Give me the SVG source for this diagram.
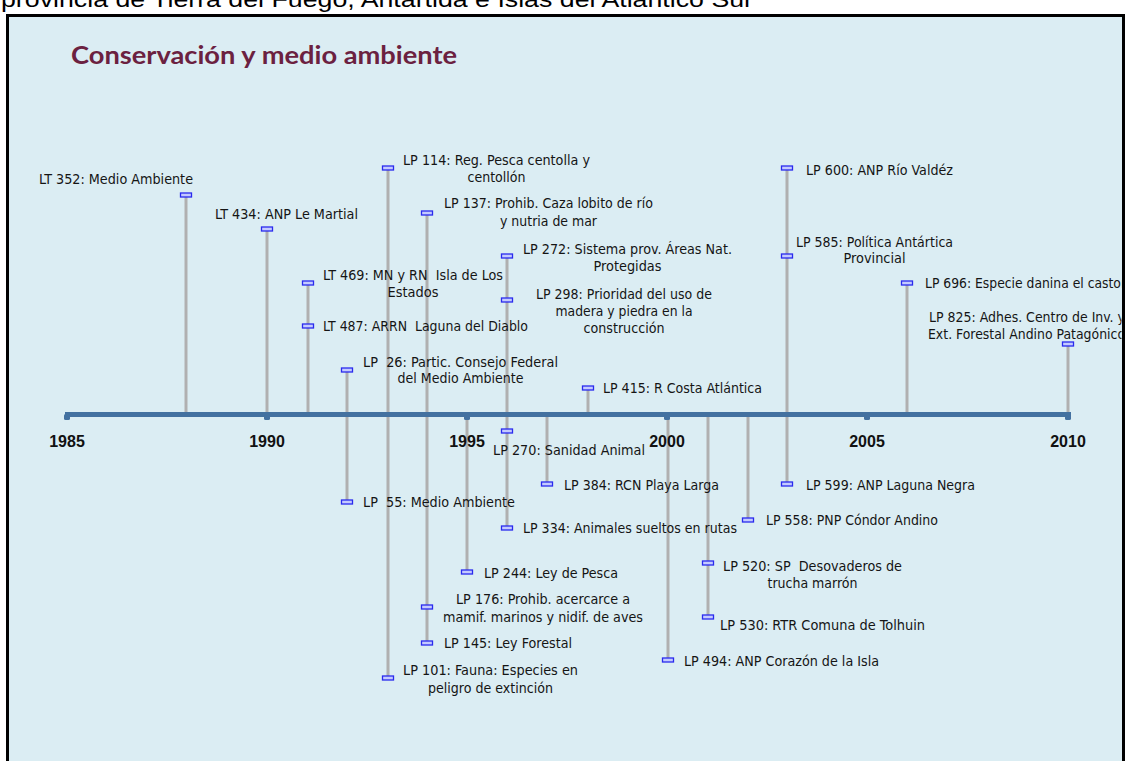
<svg xmlns="http://www.w3.org/2000/svg" width="1127" height="761" viewBox="0 0 1127 761">
<defs>
<style>
.lbl{font-family:"DejaVu Sans Condensed","DejaVu Sans",sans-serif;font-size:13.5px;fill:#151515;white-space:pre}
.mid{text-anchor:middle}
.yr{font-family:"Liberation Sans",Arial,sans-serif;font-weight:bold;font-size:16px;text-anchor:middle;fill:#111}
.mk{fill:#c4caff;stroke:#2a2aee;stroke-width:1.3}
.stem{stroke:#b0b0b0;stroke-width:3;fill:none}
.tick{fill:#4371a0}
</style>
<clipPath id="panelClip"><rect x="9" y="17" width="1112.5" height="744"/></clipPath>
</defs>
<rect x="0" y="0" width="1127" height="761" fill="#ffffff"/>
<text x="1" y="7" font-family="'Liberation Sans',Arial,sans-serif" font-size="22" fill="#000" textLength="752" lengthAdjust="spacingAndGlyphs">provincia de Tierra del Fuego, Antártida e Islas del Atlántico Sur</text>
<rect x="7.5" y="15.5" width="1116" height="760" fill="#dbedf3" stroke="#000" stroke-width="3"/>
<text id="title" x="71" y="64" font-family="Lato,'Open Sans',sans-serif" font-weight="bold" font-size="25" fill="#6b2140" textLength="386" lengthAdjust="spacingAndGlyphs">Conservación y medio ambiente</text>

<g id="connectors">
<line class="stem" x1="186" y1="195" x2="186" y2="414"/>
<line class="stem" x1="267" y1="229" x2="267" y2="414"/>
<line class="stem" x1="308" y1="283" x2="308" y2="414"/>
<line class="stem" x1="347" y1="370" x2="347" y2="502"/>
<line class="stem" x1="388" y1="168" x2="388" y2="678"/>
<line class="stem" x1="427" y1="213" x2="427" y2="643"/>
<line class="stem" x1="467" y1="414" x2="467" y2="572"/>
<line class="stem" x1="507" y1="256" x2="507" y2="528"/>
<line class="stem" x1="547" y1="414" x2="547" y2="484"/>
<line class="stem" x1="588" y1="388" x2="588" y2="414"/>
<line class="stem" x1="668" y1="414" x2="668" y2="660"/>
<line class="stem" x1="708" y1="414" x2="708" y2="617"/>
<line class="stem" x1="748" y1="414" x2="748" y2="520"/>
<line class="stem" x1="787" y1="168" x2="787" y2="484"/>
<line class="stem" x1="907" y1="283" x2="907" y2="414"/>
<line class="stem" x1="1068" y1="344" x2="1068" y2="414"/>
</g>

<g id="axis">
<line x1="65" y1="414.5" x2="1071" y2="414.5" stroke="#4371a0" stroke-width="5"/>
<rect class="tick" x="64" y="414" width="6" height="6" rx="1.5"/>
<rect class="tick" x="264" y="414" width="6" height="6" rx="1.5"/>
<rect class="tick" x="464" y="414" width="6" height="6" rx="1.5"/>
<rect class="tick" x="664" y="414" width="6" height="6" rx="1.5"/>
<rect class="tick" x="864" y="414" width="6" height="6" rx="1.5"/>
<rect class="tick" x="1065" y="414" width="6" height="6" rx="1.5"/>
<text class="yr" x="67" y="447">1985</text>
<text class="yr" x="267" y="447">1990</text>
<text class="yr" x="467" y="447">1995</text>
<text class="yr" x="667" y="447">2000</text>
<text class="yr" x="867" y="447">2005</text>
<text class="yr" x="1068" y="447">2010</text>
</g>

<g clip-path="url(#panelClip)">
<g id="lt352"><rect class="mk" x="180.5" y="193" width="11" height="4"/><text class="lbl" x="39" y="184" textLength="154" lengthAdjust="spacingAndGlyphs">LT 352: Medio Ambiente</text></g>
<g id="lt434"><rect class="mk" x="261.5" y="227" width="11" height="4"/><text class="lbl" x="215" y="219" textLength="143" lengthAdjust="spacingAndGlyphs">LT 434: ANP Le Martial</text></g>
<g id="lt469"><rect class="mk" x="302.5" y="281" width="11" height="4"/><text class="lbl mid" x="413" y="280" textLength="180" lengthAdjust="spacingAndGlyphs">LT 469: MN y RN  Isla de Los</text><text class="lbl mid" x="413" y="297" textLength="51" lengthAdjust="spacingAndGlyphs">Estados</text></g>
<g id="lt487"><rect class="mk" x="302.5" y="324" width="11" height="4"/><text class="lbl" x="323" y="331" textLength="205" lengthAdjust="spacingAndGlyphs">LT 487: ARRN  Laguna del Diablo</text></g>
<g id="lp26"><rect class="mk" x="341.5" y="368" width="11" height="4"/><text class="lbl mid" x="460.5" y="367" textLength="195" lengthAdjust="spacingAndGlyphs">LP  26: Partic. Consejo Federal</text><text class="lbl mid" x="460.5" y="383" textLength="126" lengthAdjust="spacingAndGlyphs">del Medio Ambiente</text></g>
<g id="lp114"><rect class="mk" x="382.5" y="166" width="11" height="4"/><text class="lbl mid" x="496.5" y="165" textLength="187" lengthAdjust="spacingAndGlyphs">LP 114: Reg. Pesca centolla y</text><text class="lbl mid" x="496.5" y="182" textLength="58" lengthAdjust="spacingAndGlyphs">centollón</text></g>
<g id="lp137"><rect class="mk" x="421.5" y="211" width="11" height="4"/><text class="lbl mid" x="548.5" y="208" textLength="209" lengthAdjust="spacingAndGlyphs">LP 137: Prohib. Caza lobito de río</text><text class="lbl mid" x="548.5" y="226" textLength="97" lengthAdjust="spacingAndGlyphs">y nutria de mar</text></g>
<g id="lp272"><rect class="mk" x="501.5" y="254" width="11" height="4"/><text class="lbl mid" x="627.5" y="254" textLength="209" lengthAdjust="spacingAndGlyphs">LP 272: Sistema prov. Áreas Nat.</text><text class="lbl mid" x="627.5" y="271" textLength="68" lengthAdjust="spacingAndGlyphs">Protegidas</text></g>
<g id="lp298"><rect class="mk" x="501.5" y="298" width="11" height="4"/><text class="lbl mid" x="624" y="299" textLength="176" lengthAdjust="spacingAndGlyphs">LP 298: Prioridad del uso de</text><text class="lbl mid" x="624" y="316" textLength="137" lengthAdjust="spacingAndGlyphs">madera y piedra en la</text><text class="lbl mid" x="624" y="333" textLength="81" lengthAdjust="spacingAndGlyphs">construcción</text></g>
<g id="lp415"><rect class="mk" x="582.5" y="386" width="11" height="4"/><text class="lbl" x="603" y="393" textLength="159" lengthAdjust="spacingAndGlyphs">LP 415: R Costa Atlántica</text></g>
<g id="lp600"><rect class="mk" x="781.5" y="166" width="11" height="4"/><text class="lbl" x="806" y="175" textLength="147" lengthAdjust="spacingAndGlyphs">LP 600: ANP Río Valdéz</text></g>
<g id="lp585"><rect class="mk" x="781.5" y="254" width="11" height="4"/><text class="lbl mid" x="874.5" y="247" textLength="157" lengthAdjust="spacingAndGlyphs">LP 585: Política Antártica</text><text class="lbl mid" x="874.5" y="263" textLength="62" lengthAdjust="spacingAndGlyphs">Provincial</text></g>
<g id="lp696"><rect class="mk" x="901.5" y="281" width="11" height="4"/><text class="lbl" x="925" y="288" textLength="201" lengthAdjust="spacingAndGlyphs">LP 696: Especie danina el castor</text></g>
<g id="lp825"><rect class="mk" x="1062.5" y="342" width="11" height="4"/><text class="lbl" x="929" y="322" textLength="196" lengthAdjust="spacingAndGlyphs">LP 825: Adhes. Centro de Inv. y</text><text class="lbl" x="928" y="339" textLength="197" lengthAdjust="spacingAndGlyphs">Ext. Forestal Andino Patagónico</text></g>
<g id="lp270"><rect class="mk" x="501.5" y="429" width="11" height="4"/><text class="lbl" x="493" y="455" textLength="152" lengthAdjust="spacingAndGlyphs">LP 270: Sanidad Animal</text></g>
<g id="lp384"><rect class="mk" x="541.5" y="482" width="11" height="4"/><text class="lbl" x="564" y="490" textLength="155" lengthAdjust="spacingAndGlyphs">LP 384: RCN Playa Larga</text></g>
<g id="lp55"><rect class="mk" x="341.5" y="500" width="11" height="4"/><text class="lbl" x="363" y="507" textLength="152" lengthAdjust="spacingAndGlyphs">LP  55: Medio Ambiente</text></g>
<g id="lp334"><rect class="mk" x="501.5" y="526" width="11" height="4"/><text class="lbl" x="523" y="533" textLength="214" lengthAdjust="spacingAndGlyphs">LP 334: Animales sueltos en rutas</text></g>
<g id="lp244"><rect class="mk" x="461.5" y="570" width="11" height="4"/><text class="lbl" x="484" y="578" textLength="134" lengthAdjust="spacingAndGlyphs">LP 244: Ley de Pesca</text></g>
<g id="lp176"><rect class="mk" x="421.5" y="605" width="11" height="4"/><text class="lbl mid" x="543" y="604" textLength="174" lengthAdjust="spacingAndGlyphs">LP 176: Prohib. acercarce a</text><text class="lbl mid" x="543" y="622" textLength="200" lengthAdjust="spacingAndGlyphs">mamif. marinos y nidif. de aves</text></g>
<g id="lp145"><rect class="mk" x="421.5" y="641" width="11" height="4"/><text class="lbl" x="444" y="648" textLength="128" lengthAdjust="spacingAndGlyphs">LP 145: Ley Forestal</text></g>
<g id="lp101"><rect class="mk" x="382.5" y="676" width="11" height="4"/><text class="lbl mid" x="490.5" y="675" textLength="175" lengthAdjust="spacingAndGlyphs">LP 101: Fauna: Especies en</text><text class="lbl mid" x="490.5" y="693" textLength="125" lengthAdjust="spacingAndGlyphs">peligro de extinción</text></g>
<g id="lp494"><rect class="mk" x="662.5" y="658" width="11" height="4"/><text class="lbl" x="684" y="666" textLength="195" lengthAdjust="spacingAndGlyphs">LP 494: ANP Corazón de la Isla</text></g>
<g id="lp520"><rect class="mk" x="702.5" y="561" width="11" height="4"/><text class="lbl mid" x="812.5" y="571" textLength="179" lengthAdjust="spacingAndGlyphs">LP 520: SP  Desovaderos de</text><text class="lbl mid" x="812.5" y="588" textLength="90" lengthAdjust="spacingAndGlyphs">trucha marrón</text></g>
<g id="lp530"><rect class="mk" x="702.5" y="615" width="11" height="4"/><text class="lbl" x="720" y="630" textLength="205" lengthAdjust="spacingAndGlyphs">LP 530: RTR Comuna de Tolhuin</text></g>
<g id="lp558"><rect class="mk" x="742.5" y="518" width="11" height="4"/><text class="lbl" x="766" y="525" textLength="172" lengthAdjust="spacingAndGlyphs">LP 558: PNP Cóndor Andino</text></g>
<g id="lp599"><rect class="mk" x="781.5" y="482" width="11" height="4"/><text class="lbl" x="806" y="490" textLength="169" lengthAdjust="spacingAndGlyphs">LP 599: ANP Laguna Negra</text></g>
</g>
</svg>
